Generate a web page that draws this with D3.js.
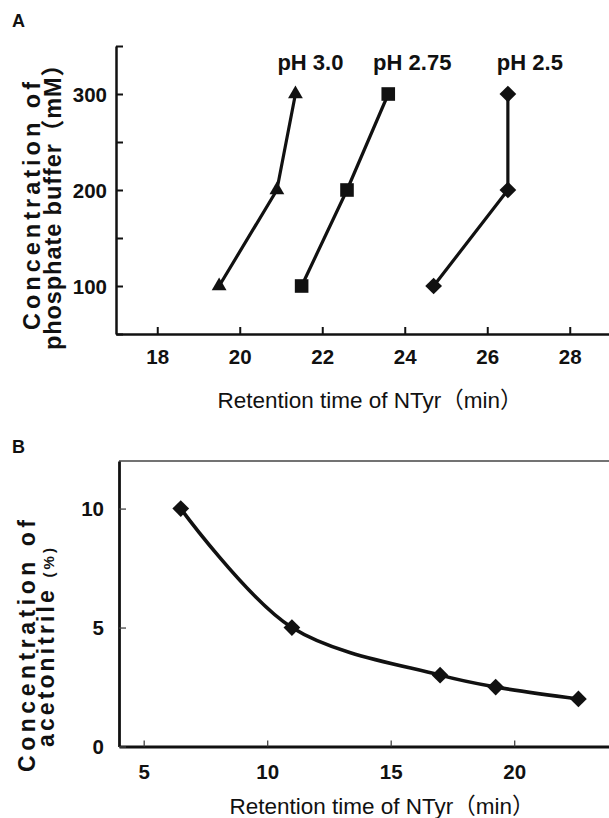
<!DOCTYPE html>
<html>
<head>
<meta charset="utf-8">
<script src="https://cdn.jsdelivr.net/npm/d3@7"></script>
<style>
  body { margin: 0; background: #fff; }
  svg { display: block; font-family: "Liberation Sans", Arial, "Noto Sans CJK JP", sans-serif; }
</style>
</head>
<body>
<svg id="chart" width="609" height="818"></svg>
<script>
// Panel A: buffer concentration (mM) vs retention time (min) at 3 pHs
const bufferConc = [100, 200, 300];
const seriesNames = ['pH 3.0', 'pH 2.75', 'pH 2.5'];
const rtPH30 = [19.5, 20.9, 21.35];
const rtPH275 = [21.5, 22.6, 23.6];
const rtPH25 = [24.7, 26.5, 26.5];
const xTicksA = [18, 20, 22, 24, 26, 28];
const yTicksA = [50, 100, 150, 200, 250, 300, 350];
const yLabelsA = [100, 200, 300];

// Panel B: acetonitrile (%) vs retention time (min)
const acnConc = [10, 5, 3, 2.5, 2];
const rtAcn = [6.5, 11, 17, 19.25, 22.6];
const xTicksB = [5, 10, 15, 20];
const yTicksB = [0, 5, 10];

const ink = '#111';
const svg = d3.select('#chart');

// ---------- panel A ----------
const xA = d3.scaleLinear().domain([17, 29]).range([116, 611]);
const yA = d3.scaleLinear().domain([50, 350]).range([334, 46]);

const styleAxis = (g, domainWidth, tickWidth, tickColor) => {
  g.select('.domain').attr('stroke', ink).attr('stroke-width', domainWidth);
  g.selectAll('.tick line').attr('stroke', tickColor).attr('stroke-width', tickWidth);
  g.selectAll('text')
   .attr('fill', ink)
   .attr('font-size', 20.5)
   .attr('font-weight', 'bold');
}

const xAxisA = svg.append('g')
                  .attr('transform', `translate(0,${yA(50)})`)
                  .call(d3.axisBottom(xA).tickValues(xTicksA).tickSize(-7).tickSizeOuter(0));
styleAxis(xAxisA, 2.5, 2, ink);
xAxisA.selectAll('text').attr('dy', null).attr('y', 30);

const yAxisA = svg.append('g')
                  .attr('transform', `translate(${xA(17)},0)`)
                  .call(d3.axisLeft(yA).tickValues(yTicksA).tickSize(-7).tickSizeOuter(0)
                          .tickFormat(d => yLabelsA.includes(d) ? d : ''));
styleAxis(yAxisA, 2.5, 2, ink);
yAxisA.selectAll('text').attr('x', -9).attr('dy', '0.36em');

const seriesA = [
  {name: seriesNames[0], values: rtPH30, shape: 'triangle', dx: 15},
  {name: seriesNames[1], values: rtPH275, shape: 'square', dx: 24},
  {name: seriesNames[2], values: rtPH25, shape: 'diamond', dx: 22}
];

const lineA = d3.line()
                .x(d => xA(d.rt))
                .y(d => yA(d.conc));

const symbolFor = (shape) => {
  if (shape === 'triangle')
    return d3.symbol().type(d3.symbolTriangle).size(95)();
  if (shape === 'square')
    return d3.symbol().type(d3.symbolSquare).size(185)();
  return d3.symbol().type(d3.symbolSquare).size(140)();
}

seriesA.forEach(s => {
  const pts = s.values.map((v, i) => ({rt: v, conc: bufferConc[i]}));
  svg.append('path')
     .attr('fill', 'none')
     .attr('stroke', ink)
     .attr('stroke-width', 3.2)
     .attr('d', lineA(pts));
  svg.selectAll(null)
     .data(pts)
     .enter()
     .append('path')
     .attr('d', symbolFor(s.shape))
     .attr('fill', ink)
     .attr('transform', d => `translate(${xA(d.rt)},${yA(d.conc)})` + (s.shape === 'diamond' ? ' rotate(45)' : ''));
  const top = pts[pts.length - 1];
  svg.append('text')
     .attr('x', xA(top.rt) + s.dx)
     .attr('y', yA(top.conc) - 24)
     .attr('text-anchor', 'middle')
     .attr('font-size', 22)
     .attr('font-weight', 'bold')
     .attr('fill', ink)
     .text(s.name);
});

svg.append('text')
   .attr('x', 370).attr('y', 408)
   .attr('text-anchor', 'middle')
   .attr('font-size', 22.5)
   .attr('fill', ink)
   .text('Retention time of NTyr（min）');

svg.append('text')
   .attr('transform', 'translate(39.5,206) rotate(-90)')
   .attr('text-anchor', 'middle')
   .attr('font-size', 23.5)
   .attr('font-weight', 'bold')
   .attr('fill', ink)
   .attr('textLength', 248)
   .attr('lengthAdjust', 'spacing')
   .text('Concentration of');
svg.append('text')
   .attr('transform', 'translate(60.5,201.5) rotate(-90)')
   .attr('text-anchor', 'middle')
   .attr('font-size', 23.5)
   .attr('font-weight', 'bold')
   .attr('fill', ink)
   .attr('textLength', 297)
   .attr('lengthAdjust', 'spacing')
   .text('phosphate buffer（mM）');

svg.append('text')
   .attr('x', 12).attr('y', 27)
   .attr('font-size', 18)
   .attr('font-weight', 'bold')
   .attr('fill', ink)
   .text('A');

// ---------- panel B ----------
const xB = d3.scaleLinear().domain([4, 24]).range([119, 613]);
const yB = d3.scaleLinear().domain([0, 12]).range([746.5, 461]);

// thin frame (top edge, right edge falls outside the picture)
svg.append('path')
   .attr('fill', 'none')
   .attr('stroke', '#444')
   .attr('stroke-width', 1.6)
   .attr('d', `M${xB(4)},${yB(12)}H${xB(24) + 5}`);

const xAxisB = svg.append('g')
                  .attr('transform', `translate(0,${yB(0)})`)
                  .call(d3.axisBottom(xB).tickValues(xTicksB).tickSize(-6).tickSizeOuter(0));
styleAxis(xAxisB, 2.8, 1.3, '#444');
xAxisB.selectAll('text').attr('dy', null).attr('y', 32.5);

const yAxisB = svg.append('g')
                  .attr('transform', `translate(${xB(4)},0)`)
                  .call(d3.axisLeft(yB).tickValues(yTicksB).tickSize(-7).tickSizeOuter(0));
styleAxis(yAxisB, 2.8, 1.3, '#444');
yAxisB.selectAll('text').attr('x', -15).attr('dy', '0.36em');

const ptsB = rtAcn.map((v, i) => ({rt: v, conc: acnConc[i]}));
const lineB = d3.line()
                .x(d => xB(d.rt))
                .y(d => yB(d.conc))
                .curve(d3.curveCatmullRom.alpha(0.5));

svg.append('path')
   .attr('fill', 'none')
   .attr('stroke', ink)
   .attr('stroke-width', 3.6)
   .attr('d', lineB(ptsB));

svg.selectAll(null)
   .data(ptsB)
   .enter()
   .append('path')
   .attr('d', d3.symbol().type(d3.symbolSquare).size(140)())
   .attr('fill', ink)
   .attr('transform', d => `translate(${xB(d.rt)},${yB(d.conc)}) rotate(45)`);

svg.append('text')
   .attr('x', 382).attr('y', 814)
   .attr('text-anchor', 'middle')
   .attr('font-size', 22.5)
   .attr('fill', ink)
   .text('Retention time of NTyr（min）');

svg.append('text')
   .attr('transform', 'translate(34.5,646) rotate(-90)')
   .attr('text-anchor', 'middle')
   .attr('font-size', 23)
   .attr('font-weight', 'bold')
   .attr('fill', ink)
   .attr('textLength', 252)
   .attr('lengthAdjust', 'spacing')
   .text('Concentration of');
const accLabel = svg.append('text')
   .attr('transform', 'translate(53.5,647.5) rotate(-90)')
   .attr('text-anchor', 'middle')
   .attr('font-weight', 'bold')
   .attr('fill', ink)
   .attr('textLength', 199)
   .attr('lengthAdjust', 'spacing');
accLabel.append('tspan').attr('font-size', 23).text('acetonitrile ');
accLabel.append('tspan').attr('font-size', 15).text('(%)');

svg.append('text')
   .attr('x', 12).attr('y', 453)
   .attr('font-size', 18)
   .attr('font-weight', 'bold')
   .attr('fill', ink)
   .text('B');
</script>
</body>
</html>
